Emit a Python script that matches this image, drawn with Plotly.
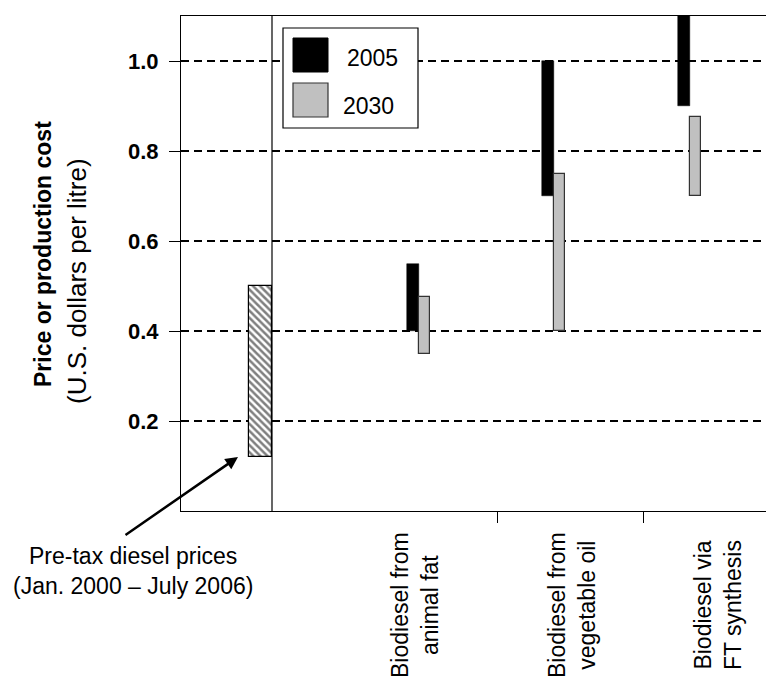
import plotly.graph_objects as go

# ---------------- data ----------------
CATEGORIES = ["Biodiesel from<br>animal fat",
              "Biodiesel from<br>vegetable oil",
              "Biodiesel via<br>FT synthesis"]
SERIES = ["2005", "2030"]
LOW_2005 = [0.40, 0.70, 0.90]
HIGH_2005 = [0.55, 1.00, 1.20]
LOW_2030 = [0.35, 0.40, 0.70]
HIGH_2030 = [0.475, 0.75, 0.875]
DIESEL_LABEL = "Pre-tax diesel prices<br>(Jan. 2000 – July 2006)"
DIESEL_LOW = [0.12]
DIESEL_HIGH = [0.50]
Y_TICKS = [0.2, 0.4, 0.6, 0.8, 1.0]

# ---------------- layout constants ----------------
W, H = 766, 679
ML, MR, MT, MB = 181, 0, 16, 168
PW = W - ML - MR
PH = H - MT - MB
PX_PER_UNIT = 135.5
ORIGIN_PX = 418.5  # pixel of category position 1


def px2x(p):
    return 1 + (p - ORIGIN_PX) / PX_PER_UNIT


def px2paper_x(p):
    return (p - ML) / PW


def py2paper_y(p):
    return (H - MB - p) / PH


XPOS = [1, 2, 3]
DIESEL_POS = [px2x(260.5)]
DIVIDER_X = px2x(272)
XTICKS = [px2x(497), px2x(643)]
BW = 12 / PX_PER_UNIT

FONT = "Liberation Sans, Arial, sans-serif"

fig = go.Figure()

fig.add_trace(go.Bar(
    x=DIESEL_POS, y=[h - l for l, h in zip(DIESEL_LOW, DIESEL_HIGH)], base=DIESEL_LOW,
    width=23 / PX_PER_UNIT,
    marker=dict(color="white", line=dict(color="black", width=1.2),
                pattern=dict(shape="\\", fgcolor="black", bgcolor="white", size=5, solidity=0.5)),
    showlegend=False, hoverinfo="skip"))

fig.add_trace(go.Bar(
    name=SERIES[0], x=XPOS, y=[h - l for l, h in zip(LOW_2005, HIGH_2005)], base=LOW_2005,
    width=BW, offset=-BW,
    marker=dict(color="black", line=dict(color="black", width=0.5)),
    showlegend=False))

fig.add_trace(go.Bar(
    name=SERIES[1], x=XPOS, y=[h - l for l, h in zip(LOW_2030, HIGH_2030)], base=LOW_2030,
    width=11 / PX_PER_UNIT, offset=0,
    marker=dict(color="#c0c0c0", line=dict(color="#333333", width=1.2)),
    showlegend=False))

shapes = [
    dict(type="line", xref="x", yref="paper", x0=DIVIDER_X, x1=DIVIDER_X, y0=0, y1=1,
         line=dict(color="black", width=1.2), layer="above"),
    # legend box
    dict(type="rect", xref="paper", yref="paper",
         x0=px2paper_x(283), x1=px2paper_x(418), y0=py2paper_y(128), y1=py2paper_y(28),
         fillcolor="white", line=dict(color="black", width=1.2), layer="above"),
    dict(type="rect", xref="paper", yref="paper",
         x0=px2paper_x(293), x1=px2paper_x(328), y0=py2paper_y(72), y1=py2paper_y(38),
         fillcolor="black", line=dict(color="black", width=1), layer="above"),
    dict(type="rect", xref="paper", yref="paper",
         x0=px2paper_x(293), x1=px2paper_x(328), y0=py2paper_y(117), y1=py2paper_y(83),
         fillcolor="#c0c0c0", line=dict(color="#333333", width=1.2), layer="above"),
]

C = dict(xanchor="center", yanchor="middle", showarrow=False)
annotations = [
    dict(xref="paper", yref="paper", x=px2paper_x(372), y=py2paper_y(58), text=SERIES[0],
         font=dict(size=23, color="black", family=FONT), **C),
    dict(xref="paper", yref="paper", x=px2paper_x(368), y=py2paper_y(106), text=SERIES[1],
         font=dict(size=23, color="black", family=FONT), **C),
    # y axis title
    dict(xref="paper", yref="paper", x=px2paper_x(43), y=py2paper_y(254),
         text="<b>Price or production cost</b>", textangle=-90,
         font=dict(size=23, color="black", family=FONT), **C),
    dict(xref="paper", yref="paper", x=px2paper_x(77), y=py2paper_y(281),
         text="(U.S. dollars per litre)", textangle=-90,
         font=dict(size=26, color="black", family=FONT), **C),
    # diesel note
    dict(xref="paper", yref="paper", x=px2paper_x(133), y=py2paper_y(571),
         text=DIESEL_LABEL, align="center",
         font=dict(size=23, color="black", family=FONT), **C),
    dict(xref="x", yref="y", x=px2x(238), y=DIESEL_LOW[0], ax=-114, ay=79,
         axref="pixel", ayref="pixel", text="", showarrow=True,
         arrowhead=2, arrowsize=1, arrowwidth=2.5, arrowcolor="black"),
]

LABEL_X_PX = [415, 572, 718]
for cat, lx in zip(CATEGORIES, LABEL_X_PX):
    annotations.append(dict(
        xref="x", yref="paper", x=px2x(lx), y=py2paper_y(605), text=cat,
        textangle=-90, align="center",
        font=dict(size=23, color="black", family=FONT), **C))

fig.update_layout(
    width=W, height=H, margin=dict(l=ML, r=MR, t=MT, b=MB, pad=0),
    paper_bgcolor="white", plot_bgcolor="white",
    barmode="overlay", bargap=0,
    showlegend=False,
    font=dict(family=FONT, color="black"),
    shapes=shapes, annotations=annotations,
    xaxis=dict(range=[px2x(ML), px2x(W)], tickvals=XTICKS, showticklabels=False,
               ticks="outside", ticklen=11, tickwidth=1.2, tickcolor="black",
               showgrid=False, zeroline=False, showline=True, linecolor="black",
               linewidth=1.2, mirror=True, fixedrange=True),
    yaxis=dict(range=[0, 1.1], tickvals=Y_TICKS, tickformat=".1f",
               tickfont=dict(size=22, weight="bold", family=FONT, color="black"),
               ticklabelstandoff=6,
               ticks="outside", ticklen=11, tickwidth=1.2, tickcolor="black",
               showgrid=True, gridcolor="black", gridwidth=2, griddash="8px,5px",
               zeroline=False, showline=True, linecolor="black", linewidth=1.2,
               fixedrange=True),
)

fig.write_html("out.html", config={"displayModeBar": False},
               post_script="document.body.style.margin='0';document.body.style.overflow='hidden';")
